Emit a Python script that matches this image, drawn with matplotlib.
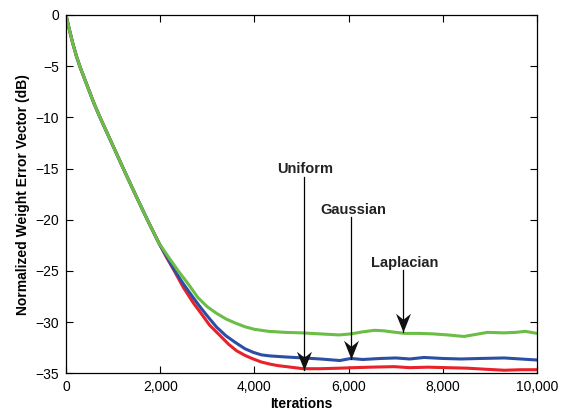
import matplotlib
matplotlib.use("Agg")
import matplotlib.pyplot as plt
from matplotlib.path import Path

# gemeinsamer Abfall am Anfang (alle drei Kurven liegen aufeinander)
iter_start = [0, 60, 140, 220, 300, 400, 500, 600, 722, 1000, 1217, 1500, 1727, 1975]
db_start = [0, -1.2, -2.7, -4.0, -5.1, -6.3, -7.5, -8.7, -10.0, -12.8, -15.0, -17.8, -20.0, -22.3]

iter_laplace = [2200, 2400, 2600, 2800, 3000, 3200, 3400, 3600, 3800, 4000, 4300, 4650, 5000,
                5400, 5800, 6050, 6300, 6550, 6750, 7000, 7200, 7500, 7800, 8100, 8450, 8700,
                8950, 9300, 9550, 9750, 10000]
db_laplace = [-23.8, -25.1, -26.3, -27.6, -28.5, -29.15, -29.7, -30.1, -30.45, -30.7, -30.9, -31.0, -31.05,
              -31.15, -31.25, -31.15, -30.95, -30.8, -30.85, -31.0, -31.1, -31.1, -31.15, -31.25, -31.4, -31.2,
              -31.0, -31.05, -31.0, -30.9, -31.1]

iter_gauss = [2138, 2300, 2490, 2700, 2845, 3000, 3200, 3400, 3600, 3800, 3975, 4150, 4329, 4650, 5036,
              5400, 5814, 6050, 6300, 6681, 7000, 7300, 7603, 8000, 8383, 8800, 9305, 9650, 10000]
db_gauss = [-23.6, -24.9, -26.25, -27.6, -28.5, -29.4, -30.5, -31.35, -32.0, -32.6, -32.95, -33.2, -33.3, -33.4, -33.5,
            -33.6, -33.75, -33.55, -33.65, -33.55, -33.5, -33.6, -33.45, -33.55, -33.6, -33.55, -33.5, -33.6, -33.7]

iter_uniform = [2138, 2300, 2490, 2700, 2845, 3050, 3268, 3450, 3622, 3800, 3975, 4150, 4329, 4500, 4683,
                5036, 5400, 5800, 6100, 6468, 6965, 7300, 7674, 8100, 8525, 8900, 9305, 9650, 10000]
db_uniform = [-23.7, -25.0, -26.6, -28.1, -29.0, -30.3, -31.3, -32.15, -32.8, -33.25, -33.6, -33.9, -34.1, -34.25, -34.35,
              -34.55, -34.55, -34.5, -34.45, -34.4, -34.35, -34.45, -34.4, -34.45, -34.5, -34.6, -34.7, -34.65, -34.65]

xticks = [0, 2000, 4000, 6000, 8000, 10000]
yticks = [-35, -30, -25, -20, -15, -10, -5, 0]

# Beschriftungen: Text, Textmitte, Pfeil-x, Pfeilanfang, Pfeilspitze
labels = [("Uniform", (5085, -15.07), 5050, -15.85, -34.7),
          ("Gaussian", (6100, -19.0), 6051, -19.77, -33.6),
          ("Laplacian", (7197, -24.2), 7148, -24.95, -31.0)]

# Pfeilspitze mit Kerbe (wie in MATLAB), Spitze liegt im Ursprung
spids = Path([(0, 0), (-0.4, 1.0), (0, 0.68), (0.4, 1.0), (0, 0)],
             [Path.MOVETO, Path.LINETO, Path.LINETO, Path.LINETO, Path.CLOSEPOLY])

plt.rcParams['font.family'] = ['Liberation Sans', 'DejaVu Sans']

fig = plt.figure(figsize=(5.65, 4.12), dpi=100)
ax = fig.add_axes([0.1168, 0.0939, 0.8336, 0.8697])

ax.plot(iter_start + iter_uniform, db_start + db_uniform, color='#e8212b', lw=2.2)
ax.plot(iter_start + iter_gauss, db_start + db_gauss, color='#2c4fa3', lw=2.2)
ax.plot(iter_start + iter_laplace, db_start + db_laplace, color='#6bbd45', lw=2.2)

for tekst, pos, px, fra, til in labels:
    ax.text(pos[0], pos[1], tekst, ha='center', va='center',
            fontsize=10.5, fontweight='bold', color='#222222')
    ax.plot([px, px], [fra, til], color='black', lw=0.9)
    ax.plot([px], [til], marker=spids, ms=27, color='#111111', mew=0)

ax.set_xlim(0, 10000)
ax.set_ylim(-35, 0)
ax.set_xticks(xticks)
ax.set_xticklabels(['{:,}'.format(t) for t in xticks])
ax.set_yticks(yticks)
ax.set_yticklabels([str(t).replace('-', '\u2212') for t in yticks])
ax.tick_params(direction='in', top=True, right=True, length=5, width=0.8,
               labelsize=10, pad=5)
for s in ax.spines.values():
    s.set_linewidth(0.9)

ax.set_xlabel('Iterations', fontsize=10, fontweight='bold', labelpad=2)
ax.set_ylabel('Normalized Weight Error Vector (dB)', fontsize=10, fontweight='bold', labelpad=4)

fig.savefig('out.png', dpi=100)
